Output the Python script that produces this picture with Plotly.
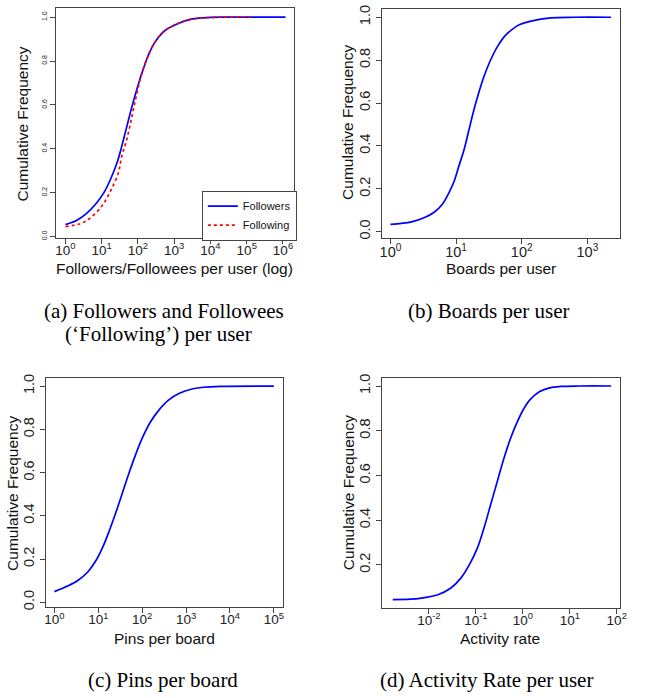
import plotly.graph_objects as go

W, H = 646, 698

# ---------------- data ----------------
# (a) Followers / Following per user
followers_x = [1, 1.95, 3.63, 6.76, 11.5, 17.4, 26.3, 35.5, 49, 67.6, 91.2, 126, 191, 288, 537, 1230, 2820, 6460, 20000, 1175000]
followers_y = [0.055, 0.072, 0.102, 0.147, 0.20, 0.26, 0.335, 0.41, 0.50, 0.59, 0.666, 0.741, 0.824, 0.884, 0.937, 0.97, 0.99, 0.997, 1.0, 1.0]
following_x = [1, 2.4, 4.47, 10.2, 17.4, 28.8, 35.5, 46.8, 60.3, 75.9, 97.7, 126, 191, 288, 537, 1230, 2820, 6460, 20000, 126000]
following_y = [0.046, 0.057, 0.08, 0.14, 0.207, 0.29, 0.365, 0.43, 0.505, 0.585, 0.666, 0.741, 0.824, 0.884, 0.937, 0.97, 0.99, 0.997, 1.0, 1.0]

# (b) Boards per user
boards_x = [1, 2.09, 3.31, 4.68, 6.17, 7.76, 9.33, 11, 13.2, 15.5, 18.6, 21.9, 26.3, 33.1, 41.7, 55, 74.1, 93.3, 138, 275, 631, 2290]
boards_y = [0.034, 0.046, 0.066, 0.092, 0.128, 0.181, 0.235, 0.305, 0.382, 0.468, 0.566, 0.643, 0.72, 0.797, 0.858, 0.912, 0.947, 0.966, 0.982, 0.997, 1.0, 1.0]

# (c) Pins per board
pins_x = [1, 2.04, 3.47, 5.75, 8.91, 12.6, 17.8, 25.1, 35.5, 50.1, 70.8, 100, 155, 240, 398, 724, 1445, 2455, 6310, 100000]
pins_y = [0.049, 0.076, 0.102, 0.14, 0.194, 0.255, 0.331, 0.415, 0.507, 0.598, 0.683, 0.759, 0.835, 0.889, 0.935, 0.968, 0.988, 0.995, 0.999, 1.0]

# (d) Activity rate per user
activity_x = [0.0017, 0.004, 0.0069, 0.0155, 0.0295, 0.0479, 0.0724, 0.107, 0.148, 0.204, 0.282, 0.389, 0.537, 0.741, 1.02, 1.41, 2.29, 3.72, 6.3, 15.8, 76]
activity_y = [0.045, 0.047, 0.052, 0.067, 0.097, 0.141, 0.20, 0.274, 0.363, 0.466, 0.569, 0.672, 0.761, 0.834, 0.894, 0.938, 0.975, 0.992, 0.998, 1.0, 1.0]

# tick labels
y_ticks_full = [0.0, 0.2, 0.4, 0.6, 0.8, 1.0]
y_ticks_d = [0.2, 0.4, 0.6, 0.8, 1.0]
exp_a = [0, 1, 2, 3, 4, 5, 6]
exp_b = [0, 1, 2, 3]
exp_c = [0, 1, 2, 3, 4, 5]
exp_d = [-2, -1, 0, 1, 2]

x_titles = ["Followers/Followees per user (log)", "Boards per user", "Pins per board", "Activity rate"]
y_title = "Cumulative Frequency"
captions = ["(a) Followers and Followees", "(‘Following’) per user", "(b) Boards per user",
            "(c) Pins per board", "(d) Activity Rate per user"]

# ---------------- figure ----------------
SANS = "Liberation Sans, Arial, sans-serif"
SERIF = "Liberation Serif, Times New Roman, serif"
BLUE = "#0000FF"
RED = "#FF0000"
AX = "#444444"


def px(x):
    return x / W


def py(y):
    return 1 - y / H


fig = go.Figure()

line_w = 1.7
spl = dict(shape="spline", smoothing=1.0)
fig.add_trace(go.Scatter(x=followers_x, y=followers_y, mode="lines", name="Followers",
                         line=dict(color=BLUE, width=line_w, **spl), xaxis="x", yaxis="y"))
fig.add_trace(go.Scatter(x=following_x, y=following_y, mode="lines", name="Following",
                         line=dict(color=RED, width=line_w, dash="dot", **spl), xaxis="x", yaxis="y"))
fig.add_trace(go.Scatter(x=boards_x, y=boards_y, mode="lines", showlegend=False,
                         line=dict(color=BLUE, width=line_w, **spl), xaxis="x2", yaxis="y2"))
fig.add_trace(go.Scatter(x=pins_x, y=pins_y, mode="lines", showlegend=False,
                         line=dict(color=BLUE, width=line_w, **spl), xaxis="x3", yaxis="y3"))
fig.add_trace(go.Scatter(x=activity_x, y=activity_y, mode="lines", showlegend=False,
                         line=dict(color=BLUE, width=line_w, **spl), xaxis="x4", yaxis="y4"))


def xax(domain, rng, exps, anchor, size):
    return dict(type="log", domain=domain, range=rng, anchor=anchor,
                tickvals=[10 ** e for e in exps],
                ticktext=["10<sup>%d</sup>" % e for e in exps],
                tickfont=dict(family=SANS, size=size, color="#222"),
                ticklabelstandoff=-5,
                showline=True, mirror=True, linecolor=AX, linewidth=1,
                ticks="outside", ticklen=5, tickcolor=AX, showgrid=False, zeroline=False)


def yax(domain, rng, vals, anchor, size, angle):
    return dict(domain=domain, range=rng, anchor=anchor,
                tickvals=vals, ticktext=["%.1f" % v for v in vals],
                tickangle=angle,
                tickfont=dict(family=SANS, size=size, color="#222"),
                showline=True, mirror=True, linecolor=AX, linewidth=1,
                ticks="outside", ticklen=5, tickcolor=AX, showgrid=False, zeroline=False)


fig.update_layout(
    width=W, height=H,
    margin=dict(l=0, r=0, t=0, b=0),
    paper_bgcolor="white", plot_bgcolor="white",
    xaxis=xax([px(55), px(296)], [-0.254, 6.30], exp_a, "y", 13.5),
    yaxis=yax([py(236), py(4)], [-0.005, 1.042], y_ticks_full, "x", 7, -90),
    xaxis2=xax([px(385.3), px(626.3)], [-0.13, 3.49], exp_b, "y2", 14.5),
    yaxis2=yax([py(236.7), py(4.7)], [-0.031, 1.04], y_ticks_full, "x2", 14.5, -90),
    xaxis3=xax([px(44.3), px(285)], [-0.20, 5.21], exp_c, "y3", 13.5),
    yaxis3=yax([py(609.3), py(377.3)], [-0.023, 1.04], y_ticks_full, "x3", 14.5, -90),
    xaxis4=xax([px(385.3), px(626.3)], [-3.0, 2.06], exp_d, "y4", 13.5),
    yaxis4=yax([py(610), py(377.3)], [0.008, 1.038], y_ticks_d, "x4", 14.5, -90),
    showlegend=True,
    legend=dict(x=px(299), y=py(239), xanchor="right", yanchor="bottom",
                bgcolor="white", bordercolor=AX, borderwidth=1,
                font=dict(family=SANS, size=11, color="#111"),
                itemwidth=30, tracegroupgap=0),
)

ann = []
# axis titles
for txt, x, y in [(x_titles[0], 175, 267), (x_titles[1], 506, 267), (x_titles[2], 165, 641), (x_titles[3], 505, 641)]:
    ann.append(dict(text=txt, x=px(x), y=py(y), xref="paper", yref="paper", showarrow=False,
                    xanchor="center", yanchor="middle", font=dict(family=SANS, size=15.5, color="#111")))
for x, y in [(21, 121), (351, 120), (10, 494), (351, 494)]:
    ann.append(dict(text=y_title, x=px(x), y=py(y), xref="paper", yref="paper", showarrow=False,
                    textangle=-90, xanchor="center", yanchor="middle",
                    font=dict(family=SANS, size=15.5, color="#111")))
# captions
for txt, x, y in [(captions[0], 164, 310), (captions[1], 159, 333), (captions[2], 494, 310),
                  (captions[3], 163, 683), (captions[4], 491, 683)]:
    ann.append(dict(text=txt, x=px(x), y=py(y), xref="paper", yref="paper", showarrow=False,
                    xanchor="center", yanchor="middle", font=dict(family=SERIF, size=21, color="#000")))
fig.update_layout(annotations=ann)

fig.write_html("out.html", config={"displayModeBar": False},
               post_script="document.body.style.margin='0';document.body.style.padding='0';")
